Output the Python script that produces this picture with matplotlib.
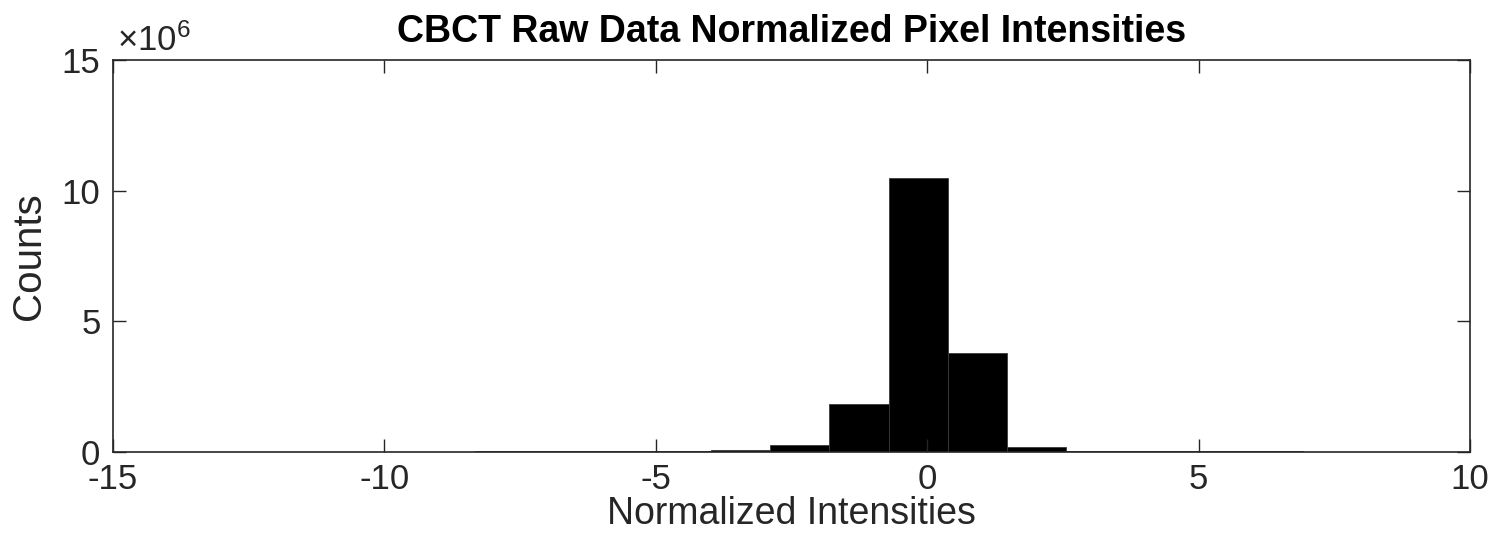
import matplotlib
matplotlib.use("Agg")
import matplotlib.pyplot as plt
from matplotlib.ticker import FuncFormatter
import numpy as np

plt.rcParams['font.family'] = ['Liberation Sans', 'DejaVu Sans']
plt.rcParams['mathtext.fontset'] = 'custom'
plt.rcParams['mathtext.rm'] = 'Liberation Sans'
plt.rcParams['mathtext.it'] = 'Liberation Sans'

# Histogram data (bin edges and counts)
bin_start = -12.70
bin_width = 1.09
counts = [0.010e6, 0.010e6, 0.010e6, 0.015e6, 0.020e6, 0.020e6, 0.025e6, 0.030e6,
          0.060e6, 0.270e6, 1.830e6, 10.470e6, 3.800e6, 0.180e6, 0.050e6, 0.030e6,
          0.030e6, 0.020e6, 0.015e6, 0.010e6]
bin_edges = [bin_start + i * bin_width for i in range(len(counts) + 1)]

x_ticks = [-15, -10, -5, 0, 5, 10]
y_ticks = [0, 5e6, 10e6, 15e6]

title = "CBCT Raw Data Normalized Pixel Intensities"
xlabel = "Normalized Intensities"
ylabel = "Counts"

W, H = 1493, 542
fig = plt.figure(figsize=(W / 100, H / 100), dpi=100)
ax = fig.add_axes([113 / W, 1 - 452 / H, (1470 - 113) / W, (452 - 60) / H])

ax.hist(bin_edges[:-1], bins=bin_edges, weights=counts,
        facecolor='black', edgecolor='#3a3a3a', linewidth=0.6, zorder=1)

ax.set_xlim(-15, 10)
ax.set_ylim(0, 15e6)
ax.set_xticks(x_ticks)
ax.set_yticks(y_ticks)
ax.yaxis.set_major_formatter(FuncFormatter(lambda v, p: f"{v/1e6:g}"))
ax.xaxis.set_major_formatter(FuncFormatter(lambda v, p: f"{v:g}"))

tc = '#262626'
for s in ax.spines.values():
    s.set_color(tc)
    s.set_linewidth(1.2)
    s.set_zorder(3)
ax.tick_params(direction='in', length=9.5, width=1.0, colors=tc,
               labelsize=25, top=True, right=True)
ax.tick_params(axis='x', pad=8)
ax.tick_params(axis='y', pad=9)

ax.set_title(title, fontsize=27, fontweight='bold', color='black', pad=13)
ax.set_xlabel(xlabel, fontsize=27, color=tc, labelpad=0)
ax.set_ylabel(ylabel, fontsize=29, color=tc, labelpad=10)

ax.text(0.003, 1.005, r'$\times 10^{6}$', transform=ax.transAxes,
        fontsize=25, color=tc, ha='left', va='bottom')

fig.savefig("out.png", dpi=100)
